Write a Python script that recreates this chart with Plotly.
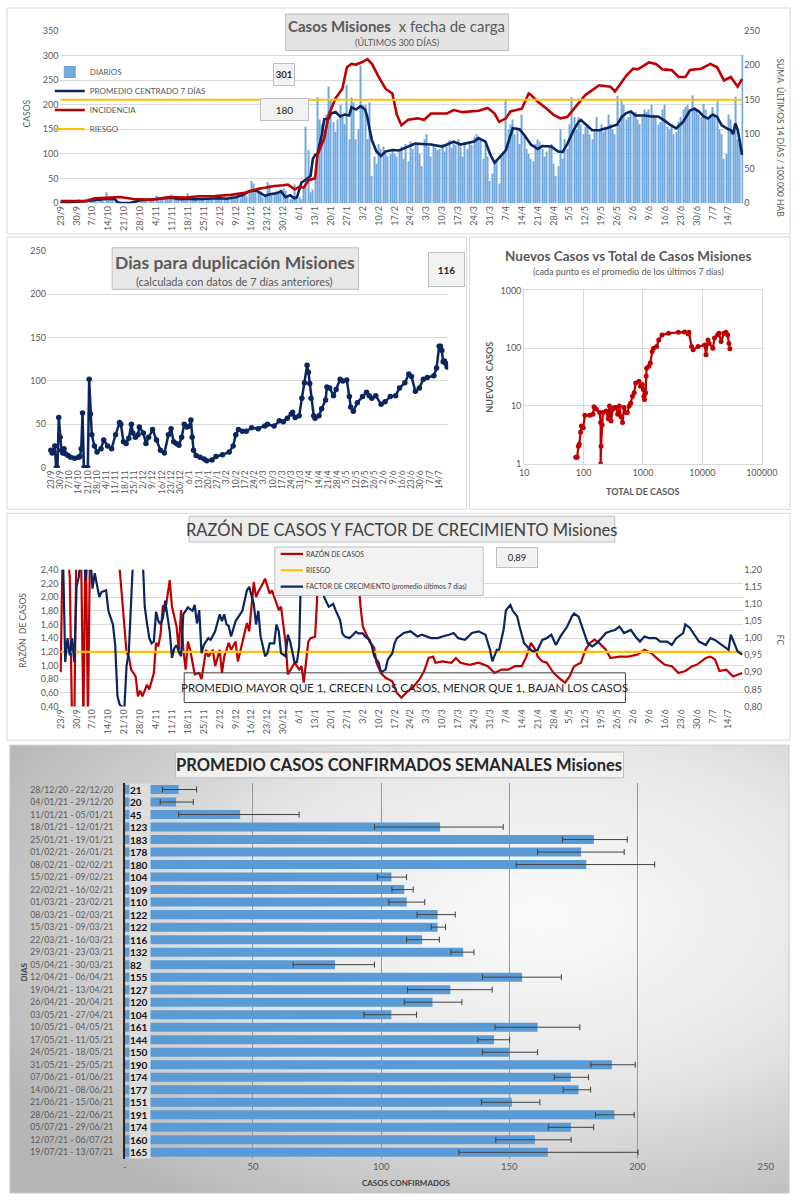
import base64
import datetime as dt
import plotly.graph_objects as go

W, H = 808, 1200
FONT = "Lato"
GRAY = "#595959"
GRID = "#d9d9d9"
NAVY = "#0b2560"
RED = "#c00000"
GOLD = "#ffc000"
BLUE = "#5b9bd5"
BAR1 = "#72a9de"

START = dt.datetime(2020, 9, 23)

# ---------------- Panel 1: casos diarios (23/9/2020 .. 20/7/2021) ----------------
DIARIOS = [
    1, 3, 0, 2, 1, 4, 2,
    3, 8, 2, 5, 4, 3, 6,
    5, 9, 3, 12, 6, 4, 22,
    8, 10, 7, 9, 2, 0, 1,
    0, 0, 1, 3, 5, 4, 8,
    6, 9, 5, 8, 7, 10, 6,
    15, 9, 7, 12, 14, 8, 11,
    17, 10, 8, 6, 9, 12, 7,
    20, 9, 6, 8, 10, 7, 9,
    11, 8, 9, 12, 7, 10, 9,
    14, 9, 11, 8, 10, 13, 9,
    12, 15, 10, 18, 20, 14, 22,
    45, 40, 28, 25, 20, 12, 15,
    43, 38, 18, 20, 25, 22, 28,
    30, 25, 12, 8, 14, 38, 15,
    12, 8, 30, 155, 108, 22, 28,
    50, 215, 170, 160, 150, 180, 237,
    210, 165, 145, 170, 200, 175, 160,
    240, 130, 215, 205, 130, 150, 280,
    200, 200, 130, 205, 55, 95, 80,
    120, 110, 115, 100, 95, 100, 110,
    100, 95, 105, 115, 90, 120, 85,
    125, 110, 122, 118, 100, 75, 130,
    140, 115, 95, 120, 112, 108, 110,
    120, 105, 115, 128, 112, 125, 118,
    130, 115, 95, 120, 110, 125, 118,
    135, 140, 128, 130, 90, 125, 95,
    45, 60, 80, 90, 40, 95, 100,
    210, 150, 160, 170, 140, 150, 120,
    180, 135, 110, 100, 90, 85, 120,
    130, 125, 110, 95, 105, 115, 120,
    80, 55, 75, 150, 90, 130, 110,
    160, 215, 175, 150, 175, 160, 140,
    155, 160, 140, 130, 145, 175, 150,
    160, 145, 155, 180, 160, 150, 140,
    218, 160, 212, 200, 170, 175, 185,
    180, 185, 170, 160, 175, 190, 185,
    190, 200, 180, 175, 160, 165, 190,
    200, 155, 150, 160, 140, 145, 165,
    175, 190, 195, 200, 185, 219, 195,
    190, 180, 175, 202, 190, 170, 180,
    195, 180, 207, 150, 140, 90, 100,
    180, 170, 150, 216, 130, 120, 301,
]

# (día desde 23/9, valor)
PROMEDIO_7D = [
    (0, 2), (3, 1), (7, 3), (10, 4), (14, 5), (17, 7), (21, 9), (24, 8), (25, 2), (27, 0),
    (30, 0), (32, 2), (35, 6), (38, 7), (42, 8), (45, 10), (49, 11), (52, 8), (56, 9), (59, 8),
    (63, 9), (66, 9), (70, 10), (73, 9), (77, 12), (80, 16), (83, 24), (86, 26), (88, 20), (90, 15),
    (92, 18), (95, 20), (97, 24), (99, 12), (101, 16), (103, 10), (104, 12), (106, 42), (108, 48), (110, 55),
    (111, 90), (112, 98), (113, 100), (115, 140), (116, 170), (118, 172), (119, 182), (121, 185), (123, 176), (125, 180),
    (127, 178), (128, 195), (130, 190), (132, 197), (134, 190), (135, 175), (136, 150), (137, 128), (139, 105), (141, 96),
    (143, 105), (146, 108), (149, 107), (154, 118), (156, 121), (159, 120), (163, 119), (168, 115), (173, 125), (176, 119),
    (182, 125), (184, 132), (187, 125), (189, 100), (191, 82), (193, 92), (196, 108), (199, 152), (202, 150), (204, 139),
    (207, 119), (210, 110), (212, 116), (216, 115), (219, 105), (221, 104), (223, 120), (226, 150), (228, 165), (229, 169),
    (231, 160), (234, 148), (237, 148), (241, 153), (245, 160), (247, 175), (249, 183), (251, 186), (253, 178), (257, 178),
    (260, 176), (263, 176), (266, 167), (268, 160), (271, 152), (274, 165), (277, 188), (279, 192), (281, 186), (283, 176),
    (285, 172), (287, 180), (289, 175), (291, 158), (294, 150), (295, 148), (296, 140), (297, 162), (298, 150), (300, 98),
]

INCIDENCIA_14D = [
    (0, 3), (11, 3), (15, 7), (19, 8), (22, 9), (26, 9), (32, 6), (40, 5), (44, 7), (48, 9),
    (55, 8), (61, 10), (68, 10.5), (75, 12), (81, 15), (87, 21), (90, 22.5), (94, 25), (98, 26), (100, 27),
    (103, 20), (105, 23.5), (107, 22.5), (109, 33), (112, 36), (113, 70), (116, 94), (118, 128), (121, 152), (124, 166),
    (126, 197), (128, 202), (130, 201), (133, 205), (135, 209), (137, 202), (140, 183), (143, 166), (146, 159), (148, 128),
    (150, 113), (153, 121), (157, 123), (160, 121), (163, 130), (170, 130), (173, 135), (177, 132), (184, 134), (188, 138),
    (191, 130), (193, 118), (196, 123), (198, 133), (203, 137), (206, 159), (207, 157), (210, 147), (214, 137), (217, 128),
    (220, 123), (223, 125), (226, 137), (231, 157), (234, 164), (237, 171), (242, 169), (244, 162), (246, 171), (249, 185),
    (252, 195), (254, 194), (259, 204), (262, 202), (265, 194), (269, 193), (272, 183), (275, 183), (277, 193), (282, 195),
    (286, 202), (289, 197), (292, 178), (295, 183), (298, 169), (300, 180),
]
RIESGO_INCIDENCIA = 150

# ---------------- Panel 2: días para duplicación ----------------
DUPLICACION = [
    (0, 20), (1, 17), (2, 18), (3, 25), (4, 0), (5, 0), (6, 58), (7, 35), (8, 20), (9, 17),
    (10, 22), (11, 16), (13, 14), (15, 12), (18, 11), (21, 12), (22, 13), (23, 22), (24, 63), (25, 0),
    (26, 0), (27, 0), (28, 0), (29, 102), (30, 62), (31, 38), (33, 25), (35, 18), (38, 22), (40, 32),
    (43, 25), (46, 22), (49, 38), (52, 52), (53, 50), (55, 30), (57, 28), (59, 34), (61, 50), (62, 40),
    (64, 35), (66, 38), (67, 47), (70, 40), (72, 28), (74, 35), (77, 44), (80, 32), (83, 20), (86, 17),
    (89, 38), (91, 45), (93, 30), (95, 28), (97, 26), (99, 35), (101, 50), (103, 47), (105, 48), (106, 55),
    (107, 35), (108, 20), (110, 14), (113, 12), (116, 10), (118, 8), (122, 9), (125, 13), (130, 15), (135, 18),
    (138, 25), (140, 38), (142, 44), (145, 42), (148, 42), (152, 46), (157, 45), (162, 48), (164, 50), (169, 48),
    (173, 54), (176, 53), (179, 57), (182, 62), (183, 64), (185, 58), (188, 60), (190, 80), (192, 98), (194, 118),
    (195, 110), (196, 97), (197, 80), (199, 60), (200, 57), (203, 60), (205, 68), (208, 78), (209, 93), (211, 92),
    (214, 83), (216, 90), (219, 102), (221, 100), (224, 101), (226, 82), (227, 70), (229, 65), (232, 75), (236, 82),
    (239, 87), (241, 83), (243, 80), (246, 83), (250, 73), (253, 76), (257, 82), (261, 83), (264, 92), (268, 98),
    (271, 108), (273, 105), (276, 88), (279, 92), (282, 102), (285, 104), (290, 106), (292, 115), (294, 140), (295, 140),
    (296, 135), (297, 122), (298, 123), (299, 120), (300, 116),
]

# ---------------- Panel 3: nuevos casos vs total ----------------
TOTAL_CASOS = [
    74, 78, 82, 85, 89, 92, 99, 105, 127, 144,
    150, 164, 187, 194, 194, 197, 206, 212, 240, 260,
    273, 290, 310, 330, 352, 375, 400, 425, 454, 480,
    516, 545, 586, 620, 665, 710, 755, 858, 910, 975,
    1015, 1040, 1060, 1107, 1130, 1150, 1257, 1330, 1428, 1510,
    1700, 1842, 2091, 2697, 3953, 5000, 5785, 5940, 6570, 7000,
    8473, 10930, 11500, 12410, 13000, 15000, 16000, 18000, 19000, 20650,
    23000, 25000, 26620, 28000, 29000,
]
NUEVOS_CASOS = [
    1.3, 1.3, 2.0, 2.2, 3.5, 4.5, 4.2, 6.9, 6.9, 7.2,
    9.7, 8.8, 7.7, 5.2, 1.0, 2.0, 4.7, 7.7, 8.2, 6.0,
    10, 5.5, 8.8, 9.4, 9.4, 7.2, 10, 6.5, 5.2, 9.4,
    7.7, 7.7, 10, 11.1, 14.8, 16.9, 25, 26.8, 22, 23.5,
    19.3, 14.8, 13, 17, 33, 45, 48.5, 55.3, 87.7, 100,
    107, 139, 169, 181, 188, 190, 176, 189, 107, 93.6,
    107, 114, 76.9, 139, 121, 100, 150, 169, 181, 130,
    181, 189, 169, 121, 98,
]

# ---------------- Panel 4: razón de casos y factor de crecimiento ----------------
RAZON = [
    (0, 0.9), (1, 3.0), (2, 3.0), (3, 2.6), (4, 2.3), (5, 0.2), (6, 0.2), (7, 3.0), (8, 3.0), (9, 2.6),
    (10, 0.2), (11, 3.0), (12, 0.2), (13, 3.0), (25, 3.0), (26, 2.4), (27, 1.96), (28, 1.57), (29, 1.19), (30, 1.13),
    (31, 0.94), (33, 0.84), (34, 0.55), (35, 0.63), (36, 0.55), (38, 0.72), (39, 0.65), (41, 0.89), (42, 1.33), (43, 1.28),
    (44, 1.47), (45, 1.88), (46, 1.79), (48, 2.25), (49, 1.86), (51, 1.57), (52, 1.23), (53, 1.81), (54, 1.23), (55, 0.94),
    (56, 1.35), (57, 1.23), (58, 1.04), (59, 0.87), (61, 0.89), (62, 0.8), (64, 1.23), (65, 1.13), (67, 1.23), (68, 0.99),
    (70, 1.23), (71, 0.89), (72, 1.13), (74, 1.33), (75, 1.23), (77, 1.35), (78, 1.06), (80, 1.33), (82, 1.62), (83, 1.50),
    (84, 1.81), (85, 2.22), (86, 2.0), (87, 2.08), (89, 2.2), (90, 2.27), (92, 2.05), (93, 2.1), (95, 1.91), (96, 1.81),
    (97, 1.86), (99, 1.33), (100, 0.87), (102, 0.99), (103, 1.04), (105, 0.94), (106, 0.99), (107, 0.75), (109, 1.35), (110, 1.40),
    (112, 1.42), (113, 2.05), (114, 2.5), (115, 3.0), (130, 3.0), (131, 2.29), (132, 1.86), (133, 1.57), (136, 1.35), (138, 1.26),
    (139, 1.04), (141, 0.89), (143, 0.82), (146, 0.77), (148, 0.6), (150, 0.53), (153, 0.63), (155, 0.68), (158, 0.8), (160, 0.92),
    (162, 1.11), (164, 1.13), (165, 1.04), (168, 1.06), (172, 1.04), (174, 1.11), (176, 1.04), (180, 1.01), (184, 1.04), (188, 0.99),
    (191, 0.89), (194, 0.94), (197, 0.94), (200, 0.99), (203, 0.99), (205, 1.13), (207, 1.33), (209, 1.23), (210, 1.13), (212, 1.06),
    (214, 1.04), (217, 0.89), (220, 0.8), (222, 0.75), (224, 0.84), (226, 0.99), (229, 1.04), (231, 1.23), (233, 1.33), (235, 1.38),
    (237, 1.33), (240, 1.23), (242, 1.11), (246, 1.13), (250, 1.13), (254, 1.16), (257, 1.23), (260, 1.18), (263, 1.09), (266, 1.01),
    (269, 0.99), (272, 0.89), (275, 0.92), (278, 0.99), (280, 1.01), (284, 1.11), (286, 1.13), (288, 1.09), (290, 0.92), (293, 0.94),
    (296, 0.84), (298, 0.87), (300, 0.89),
]
FACTOR = [
    (1, 1.25), (2, 0.93), (3, 1.0), (4, 0.95), (5, 1.0), (6, 0.93), (7, 1.15), (8, 1.18), (9, 1.25), (10, 1.25),
    (11, 1.17), (12, 1.25), (13, 1.25), (14, 1.145), (15, 1.19), (16, 1.15), (17, 1.12), (18, 1.135), (20, 1.14), (21, 1.08),
    (22, 1.06), (23, 1.04), (24, 0.98), (25, 0.83), (26, 0.805), (27, 0.80), (28, 0.79), (29, 0.92), (30, 0.96), (31, 1.1),
    (32, 1.25), (36, 1.25), (37, 1.092), (38, 1.043), (39, 1.0), (40, 0.985), (41, 0.99), (42, 1.077), (43, 1.05), (44, 1.04),
    (45, 1.06), (46, 1.11), (47, 1.06), (48, 1.02), (49, 0.942), (50, 0.97), (51, 0.98), (52, 0.96), (53, 0.947), (54, 1.07),
    (55, 1.08), (56, 1.09), (57, 1.085), (58, 1.08), (59, 1.097), (60, 1.043), (61, 1.082), (62, 0.956), (63, 0.98), (65, 1.0),
    (66, 0.995), (68, 1.02), (70, 1.07), (71, 1.05), (72, 1.07), (73, 1.04), (74, 1.035), (75, 1.005), (77, 1.05), (78, 1.06),
    (80, 1.08), (82, 1.14), (83, 1.15), (85, 1.10), (86, 1.04), (87, 1.08), (88, 1.005), (90, 0.947), (91, 0.956), (92, 0.985),
    (94, 0.985), (95, 1.04), (96, 1.02), (97, 0.956), (99, 0.947), (100, 1.01), (101, 0.99), (103, 0.928), (104, 0.93), (105, 0.976),
    (106, 1.25), (114, 1.25), (115, 1.2), (116, 1.12), (118, 1.092), (120, 1.10), (121, 1.082), (123, 1.053), (124, 1.014), (125, 1.005),
    (127, 1.0), (128, 1.005), (130, 1.019), (131, 1.014), (133, 1.014), (134, 1.005), (136, 0.995), (137, 0.976), (138, 0.947), (140, 0.928),
    (141, 0.90), (143, 0.908), (144, 0.937), (146, 0.956), (147, 0.985), (148, 1.0), (151, 1.015), (154, 1.02), (157, 1.005), (159, 1.01),
    (163, 1.0), (166, 1.0), (168, 1.005), (171, 1.01), (173, 1.015), (175, 1.0), (178, 0.995), (181, 1.015), (184, 1.02), (187, 1.01),
    (189, 0.966), (190, 0.932), (192, 0.966), (193, 0.966), (195, 1.025), (196, 1.082), (198, 1.097), (199, 1.08), (201, 1.063), (202, 1.034),
    (204, 0.985), (206, 0.971), (208, 0.961), (210, 0.966), (212, 0.995), (214, 1.0), (216, 1.01), (218, 0.98), (220, 1.005), (223, 1.034),
    (225, 1.063), (226, 1.072), (228, 1.063), (230, 1.024), (232, 0.985), (234, 0.976), (236, 0.985), (238, 1.0), (240, 1.015), (242, 1.02),
    (244, 1.024), (246, 1.034), (248, 1.015), (251, 1.024), (253, 1.005), (255, 0.99), (257, 1.005), (259, 1.0), (262, 1.0), (264, 0.99),
    (267, 0.99), (269, 0.98), (271, 1.0), (274, 1.015), (275, 1.04), (277, 1.03), (279, 1.01), (281, 0.99), (284, 0.98), (286, 1.0),
    (288, 0.995), (290, 0.985), (292, 0.976), (294, 0.966), (295, 1.01), (296, 0.995), (298, 0.961), (300, 0.952),
]
RIESGO_RAZON = 1.2

# ---------------- Panel 5: promedio semanal ----------------
SEMANAS = [
    "28/12/20 - 22/12/20", "04/01/21 - 29/12/20", "11/01/21 - 05/01/21", "18/01/21 - 12/01/21",
    "25/01/21 - 19/01/21", "01/02/21 - 26/01/21", "08/02/21 - 02/02/21", "15/02/21 - 09/02/21",
    "22/02/21 - 16/02/21", "01/03/21 - 23/02/21", "08/03/21 - 02/03/21", "15/03/21 - 09/03/21",
    "22/03/21 - 16/03/21", "29/03/21 - 23/03/21", "05/04/21 - 30/03/21", "12/04/21 - 06/04/21",
    "19/04/21 - 13/04/21", "26/04/21 - 20/04/21", "03/05/21 - 27/04/21", "10/05/21 - 04/05/21",
    "17/05/21 - 11/05/21", "24/05/21 - 18/05/21", "31/05/21 - 25/05/21", "07/06/21 - 01/06/21",
    "14/06/21 - 08/06/21", "21/06/21 - 15/06/21", "28/06/21 - 22/06/21", "05/07/21 - 29/06/21",
    "12/07/21 - 06/07/21", "19/07/21 - 13/07/21",
]
PROM_SEMANAL = [21, 20, 45, 123, 183, 178, 180, 104, 109, 110, 122, 122, 116, 132, 82,
                155, 127, 120, 104, 161, 144, 150, 190, 174, 177, 151, 191, 174, 160, 165]
ERR_MIN = [14.7, 13.8, 21, 97.4, 170.7, 161, 152.7, 98.5, 104.2, 103, 114, 119.5, 109.9, 127.2, 65.7,
           139.5, 110.3, 109, 93.3, 144.4, 137.7, 139.5, 181.8, 167.5, 171, 139.1, 183.6, 165.2, 144.7, 130.3]
ERR_MAX = [28, 26.7, 68, 147.6, 196, 194.8, 206.7, 109.9, 112.5, 117, 128.9, 125.1, 122.7, 136.2, 97.4,
           170.3, 143.3, 131.5, 113.8, 177.5, 150.1, 161, 199.1, 180.9, 181.7, 161.9, 198.7, 182.9, 174.1, 200.2]


# ---------------- helpers (window pixels -> paper fractions) ----------------
def px(x):
    return x / W


def py(y):
    return 1 - y / H


def fecha(d):
    return (START + dt.timedelta(days=d)).strftime("%Y-%m-%d %H:%M:%S")


def xs(pairs):
    return [fecha(d) for d, _ in pairs]


def ys(pairs):
    return [v for _, v in pairs]


fig = go.Figure()

# Panel 1 traces
fig.add_trace(go.Bar(x=[fecha(i) for i in range(len(DIARIOS))], y=DIARIOS, name="DIARIOS",
                     width=0.45 * 86400000, marker=dict(color=BAR1, line_width=0),
                     xaxis="x", yaxis="y", legend="legend"))
fig.add_trace(go.Scatter(x=xs(PROMEDIO_7D), y=ys(PROMEDIO_7D), name="PROMEDIO CENTRADO 7 DÍAS",
                         mode="lines", line=dict(color=NAVY, width=2.6),
                         xaxis="x", yaxis="y", legend="legend"))
fig.add_trace(go.Scatter(x=xs(INCIDENCIA_14D), y=ys(INCIDENCIA_14D), name="INCIDENCIA",
                         mode="lines", line=dict(color=RED, width=2.6),
                         xaxis="x", yaxis="y2", legend="legend"))
fig.add_trace(go.Scatter(x=[fecha(0), fecha(len(DIARIOS) - 1)], y=[RIESGO_INCIDENCIA] * 2, name="RIESGO",
                         mode="lines", line=dict(color=GOLD, width=2.2),
                         xaxis="x", yaxis="y2", legend="legend"))

# Panel 2
fig.add_trace(go.Scatter(x=xs(DUPLICACION), y=ys(DUPLICACION), mode="lines+markers",
                         line=dict(color=NAVY, width=2.5), marker=dict(color=NAVY, size=5.5),
                         xaxis="x2", yaxis="y3", showlegend=False))

# Panel 3
fig.add_trace(go.Scatter(x=TOTAL_CASOS, y=NUEVOS_CASOS, mode="lines+markers",
                         line=dict(color=RED, width=2.2), marker=dict(color=RED, size=5),
                         xaxis="x3", yaxis="y4", showlegend=False))

# Panel 4
LEG4 = [("RAZÓN DE CASOS", RED), ("RIESGO", GOLD), ("FACTOR DE CRECIMIENTO (promedio últimos 7 días)", NAVY)]
fig.add_trace(go.Scatter(x=xs(RAZON), y=ys(RAZON), name=LEG4[0][0], mode="lines",
                         line=dict(color=RED, width=2.2), xaxis="x4", yaxis="y5", showlegend=False))
fig.add_trace(go.Scatter(x=[fecha(0), fecha(300)], y=[RIESGO_RAZON] * 2, name=LEG4[1][0], mode="lines",
                         line=dict(color=GOLD, width=2.2), xaxis="x4", yaxis="y5", showlegend=False))
fig.add_trace(go.Scatter(x=xs(FACTOR), y=ys(FACTOR), name=LEG4[2][0], mode="lines",
                         line=dict(color=NAVY, width=2.2), xaxis="x4", yaxis="y6", showlegend=False))

# Panel 5
fig.add_trace(go.Bar(y=SEMANAS, x=PROM_SEMANAL, orientation="h", width=0.72,
                     marker=dict(color=BLUE, line_width=0),
                     error_x=dict(type="data", symmetric=False,
                                  array=[hi - v for hi, v in zip(ERR_MAX, PROM_SEMANAL)],
                                  arrayminus=[v - lo for lo, v in zip(ERR_MIN, PROM_SEMANAL)],
                                  color="#404040", thickness=1, width=3),
                     xaxis="x5", yaxis="y7", showlegend=False))

tick = dict(family=FONT, size=9, color=GRAY)
date_ax = dict(type="date", tickformat="%-d/%-m", tick0=fecha(0), dtick=7 * 86400000,
               tickangle=-90, tickfont=dict(family=FONT, size=9, color=GRAY),
               showgrid=False, zeroline=False, showline=False, ticks="")

fig.update_layout(
    width=W, height=H, margin=dict(l=0, r=0, t=0, b=0), autosize=False,
    paper_bgcolor="white", plot_bgcolor="rgba(0,0,0,0)",
    font=dict(family=FONT, color=GRAY), separators=",.", hovermode=False,
    xaxis=dict(date_ax, domain=[px(56), px(758)], range=[fecha(-0.5), fecha(300.5)], anchor="y"),
    yaxis=dict(domain=[py(199), py(25)], range=[0, 350], dtick=50, gridcolor=GRID, tickfont=tick,
               zeroline=False, anchor="x"),
    yaxis2=dict(overlaying="y", side="right", range=[0, 250], dtick=50, showgrid=False,
                tickfont=tick, zeroline=False, anchor="x"),
    xaxis2=dict(date_ax, domain=[px(43), px(455)], range=[fecha(-3), fecha(300.8)], anchor="y3",
                tickfont=dict(family=FONT, size=8.5, color=GRAY)),
    yaxis3=dict(domain=[py(466), py(247)], range=[0, 250], dtick=50, gridcolor=GRID, tickfont=tick,
                zeroline=False, anchor="x2"),
    xaxis3=dict(type="log", domain=[px(533), px(777)], range=[1, 5],
                tickvals=[10, 100, 1000, 10000, 100000],
                ticktext=["10", "100", "1000", "10000", "100000"], tickfont=tick,
                gridcolor=GRID, showline=True, linecolor=GRID, mirror=True, anchor="y4", zeroline=False),
    yaxis4=dict(type="log", domain=[py(462), py(287)], range=[0, 3],
                tickvals=[1, 10, 100, 1000], ticktext=["1", "10", "100", "1000"], tickfont=tick,
                gridcolor=GRID, showline=True, linecolor=GRID, mirror=True, anchor="x3", zeroline=False),
    xaxis4=dict(date_ax, domain=[px(56), px(758)], range=[fecha(-0.5), fecha(300.5)], anchor="y5"),
    yaxis5=dict(domain=[py(707), py(569)], range=[0.4, 2.4], dtick=0.2, tickformat=".2f",
                gridcolor=GRID, tickfont=tick, zeroline=False, anchor="x4"),
    yaxis6=dict(overlaying="y5", side="right", range=[0.8, 1.2], dtick=0.05, tickformat=".2f",
                showgrid=False, tickfont=tick, zeroline=False, anchor="x4"),
    xaxis5=dict(domain=[px(123), px(781)], range=[0, 250], tickvals=[0, 50, 100, 150, 200, 250],
                ticktext=["-", "50", "100", "150", "200", "250"], tickfont=dict(family=FONT, size=9.5, color=GRAY),
                showgrid=True, gridcolor="#9a9a9a", gridwidth=1, zeroline=False, anchor="y7"),
    yaxis7=dict(domain=[py(1164), py(783.7)], type="category", autorange="reversed",
                showline=True, linecolor="#262626", linewidth=1.6, ticks="", ticklabelstandoff=8,
                tickfont=dict(family=FONT, size=8.6, color=GRAY), anchor="x5", showgrid=False),
    legend=dict(x=px(46), y=py(52), xanchor="left", yanchor="top", bgcolor="rgba(0,0,0,0)",
                font=dict(family=FONT, size=8, color=GRAY), itemwidth=30, traceorder="normal"),
)

# gradient background for panel 5
svg = ('<svg xmlns="http://www.w3.org/2000/svg" width="800" height="452" viewBox="0 0 800 452">'
       '<defs><radialGradient id="g" cx="0.68" cy="0.38" r="0.78">'
       '<stop offset="0" stop-color="#fbfbfb"/><stop offset="0.5" stop-color="#e6e6e6"/>'
       '<stop offset="1" stop-color="#b6b6b6"/></radialGradient></defs>'
       '<rect width="800" height="452" fill="url(#g)"/></svg>')
fig.add_layout_image(dict(source="data:image/svg+xml;base64," + base64.b64encode(svg.encode()).decode(),
                          xref="paper", yref="paper", x=px(5), y=py(746), sizex=800 / W, sizey=452 / H,
                          xanchor="left", yanchor="top", sizing="stretch", layer="below"))

shapes = []


def rect(x0, y0, x1, y1, line="#d9d9d9", fill="rgba(0,0,0,0)", layer="below", lw=1):
    shapes.append(dict(type="rect", xref="paper", yref="paper", x0=px(x0), x1=px(x1), y0=py(y1), y1=py(y0),
                       line=dict(color=line, width=lw), fillcolor=fill, layer=layer))


# panel frames
rect(2, 2, 806, 230)
rect(2, 233, 474, 508)
rect(477, 233, 806, 508)
rect(2, 512, 806, 741)
rect(5, 746, 805, 1198, line="#c8c8c8")
# title boxes
rect(288, 8, 517, 45, line="#bfbfbf", fill="#e4e4e4", layer="above")
rect(110, 244, 363, 286, line="#bfbfbf", fill="#e8e8e8", layer="above")
rect(189, 515, 626, 541, line="#bfbfbf", fill="#ececec", layer="above")
rect(175, 753, 635, 779, line="#bfbfbf", fill="rgba(244,244,244,0.85)", layer="above")
# note box panel 4
rect(184, 673, 637, 703, line="#404040", layer="above")
# legend box panel 4
rect(277, 546, 491, 595, line="#bfbfbf", fill="#f2f2f2", layer="above")
for i, (_, col) in enumerate(LEG4):
    yy = py(553 + 16.5 * i)
    shapes.append(dict(type="line", xref="paper", yref="paper", x0=px(283), x1=px(306), y0=yy, y1=yy,
                       line=dict(color=col, width=2.2), layer="above"))
fig.update_layout(shapes=shapes)

ann = []


def text(x, y, s, size, color=GRAY, angle=0, **kw):
    d = dict(xref="paper", yref="paper", x=px(x), y=py(y), text=s, showarrow=False,
             font=dict(family=FONT, size=size, color=color), textangle=angle,
             xanchor="center", yanchor="middle")
    d.update(kw)
    ann.append(d)


def valbox(x, y, w, h, s, size, bold=False, bg="#f2f2f2"):
    text(x, y, f"<b>{s}</b>" if bold else s, size, color="#262626", width=w, height=h,
         bgcolor=bg, bordercolor="#bfbfbf", borderwidth=1, borderpad=0)


# panel 1
text(402, 20, "<b>Casos Misiones</b>  x fecha de carga", 15, color="#595959")
text(402, 37, "(ÚLTIMOS 300 DÍAS)", 9, color="#595959")
text(23, 108, "CASOS", 8.5, angle=-90)
text(796, 133, "SUMA  ÚLTIMOS 14 DÍAS / 100.000 HAB", 8.5, angle=90)
valbox(286, 69, 20, 21, f"{DIARIOS[-1]}", 9.5, bold=True)
valbox(287, 104, 47, 21, f"{round(INCIDENCIA_14D[-1][1])}", 10)

# panel 2
text(236, 259, "<b>Dias para duplicación Misiones</b>", 17.5)
text(236, 278, "(calculada con datos de 7 días anteriores)", 11)
valbox(453, 266, 35, 33, f"{round(DUPLICACION[-1][1])}", 10, bold=True)

# panel 3
text(640, 252, "<b>Nuevos Casos vs Total de Casos Misiones</b>", 13.5)
text(640, 268, "(cada punto es el promedio de los últimos 7 días)", 9)
text(655, 490, "<b>TOTAL DE CASOS</b>", 9)
text(497, 375, "<b>NUEVOS  CASOS</b>", 9, angle=-90)

# panel 4
text(407, 528, "RAZÓN DE CASOS Y FACTOR DE CRECIMIENTO Misiones", 16.5, color="#404040")
for i, (name, _) in enumerate(LEG4):
    text(307, 553 + 16.5 * i, name, 6.8, color="#404040", xanchor="left")
valbox(526, 557, 40, 19, f"{RAZON[-1][1]:.2f}".replace(".", ","), 9.5)
text(410, 688, "PROMEDIO MAYOR QUE 1, CRECEN LOS CASOS, MENOR QUE 1, BAJAN LOS CASOS", 11.5, color="#262626")
text(18, 630, "RAZÓN  DE CASOS", 8.5, angle=-90)
text(796, 640, "FC", 8.5, angle=90)

# panel 5
text(405, 766, "<b>PROMEDIO CASOS CONFIRMADOS SEMANALES Misiones</b>", 16.5, color="#262626")
text(412, 1188, "<b>CASOS CONFIRMADOS</b>", 8, color="#404040")
text(20, 975, "<b>DIAS</b>", 8, color="#404040", angle=-90)
for cat, v in zip(SEMANAS, PROM_SEMANAL):
    ann.append(dict(xref="x5", yref="y7", x=0, y=cat, text=f"<b>{v}</b>", showarrow=False,
                    xanchor="left", yanchor="middle", xshift=4, bgcolor="#dedede", borderpad=0,
                    font=dict(family=FONT, size=10, color="#0d0d0d"), width=20, height=12, align="left"))

fig.update_layout(annotations=ann)
# remove the page's default body margin so the figure fills the 808x1200 window exactly
POST = ("document.documentElement.style.overflow='hidden';"
        "document.body.style.margin='0';document.body.style.overflow='hidden';"
        "var gd=document.getElementById('{plot_id}');"
        "gd.style.position='fixed';gd.style.left='0px';gd.style.top='0px';")
fig.write_html("out.html", config={"displayModeBar": False}, post_script=POST)
